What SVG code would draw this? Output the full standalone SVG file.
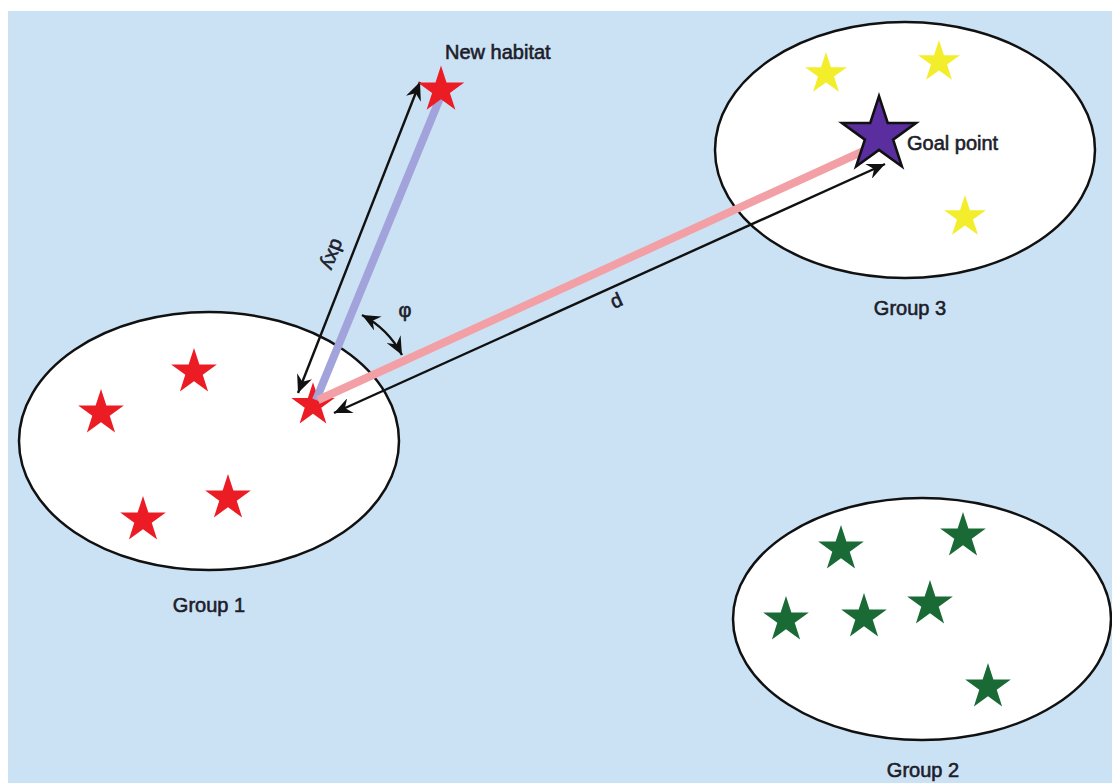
<svg xmlns="http://www.w3.org/2000/svg" width="1112" height="783" viewBox="0 0 1112 783">
  <style>
    .bg { fill: #cbe2f4; }
    .region { fill: #ffffff; stroke: #111111; stroke-width: 2.5; }
    .lbl { font-family: "Liberation Sans", Arial, sans-serif; font-size: 20px; fill: #1d1d2b; stroke: #1d1d2b; stroke-width: 0.6; }
    .red { fill: #ec1c24; }
    .yellow { fill: #f3ee2c; }
    .green { fill: #1a6a36; }
    .goal { fill: #5a2e9e; stroke: #111111; stroke-width: 1.6; stroke-linejoin: miter; }
    .path-new { stroke: #a3a3dc; stroke-width: 8; fill: none; }
    .path-goal { stroke: #f2a0a6; stroke-width: 8; fill: none; }
    .dim { stroke: #111111; stroke-width: 2.4; fill: none; marker-start: url(#head); marker-end: url(#head); }
  </style>
  <defs>
    <!-- five-pointed star, outer radius 24 -->
    <path id="star" d="M0,-24 L5.39,-7.42 L22.83,-7.42 L8.72,2.83 L14.11,19.42 L0,9.17 L-14.11,19.42 L-8.72,2.83 L-22.83,-7.42 L-5.39,-7.42 Z"/>
    <!-- barbed arrowhead used at both ends of the dimension lines -->
    <marker id="head" markerUnits="userSpaceOnUse" markerWidth="20" markerHeight="16" refX="18" refY="8" orient="auto-start-reverse">
      <path d="M0,0 L18,8 L0,16 L6,8 Z" fill="#111111"/>
    </marker>
  </defs>

  <rect class="bg" x="8" y="11" width="1104" height="772"/>

  <!-- Group 1 -->
  <g id="group1">
    <ellipse class="region" cx="209" cy="441" rx="190" ry="129"/>
    <use href="#star" class="red" x="194" y="372"/>
    <use href="#star" class="red" x="101" y="413"/>
    <use href="#star" class="red" x="228" y="498"/>
    <use href="#star" class="red" x="143" y="520"/>
    <use href="#star" class="red" transform="translate(313,405) scale(0.95)"/>
    <text class="lbl" x="209" y="612" text-anchor="middle">Group 1</text>
  </g>

  <!-- Group 3 -->
  <g id="group3">
    <ellipse class="region" cx="905" cy="150" rx="190" ry="128"/>
    <use href="#star" class="yellow" transform="translate(826,74) scale(0.92)"/>
    <use href="#star" class="yellow" transform="translate(939,62) scale(0.92)"/>
    <use href="#star" class="yellow" transform="translate(965,217) scale(0.92)"/>
    <text class="lbl" x="910" y="315" text-anchor="middle">Group 3</text>
  </g>

  <!-- Group 2 -->
  <g id="group2">
    <ellipse class="region" cx="922" cy="619" rx="189" ry="121"/>
    <use href="#star" class="green" x="841" y="549"/>
    <use href="#star" class="green" x="963" y="536"/>
    <use href="#star" class="green" x="786" y="620"/>
    <use href="#star" class="green" x="864" y="617"/>
    <use href="#star" class="green" x="930" y="604"/>
    <use href="#star" class="green" x="988" y="687"/>
    <text class="lbl" x="923" y="777" text-anchor="middle">Group 2</text>
  </g>

  <!-- connectors -->
  <g id="connectors">
    <line class="path-new" x1="316" y1="400" x2="440" y2="98"/>
    <line class="path-goal" x1="318" y1="400" x2="868" y2="149"/>
    <line class="dim" x1="298" y1="393" x2="420" y2="82"/>
    <line class="dim" x1="334" y1="413" x2="885" y2="164"/>
    <path class="dim" d="M362,315 A97,97 0 0 1 402,355"/>
    <text class="lbl" transform="translate(332,254) rotate(111.4)" text-anchor="middle" dominant-baseline="middle" font-size="18">dxy</text>
    <text class="lbl" transform="translate(617,302) rotate(-24.3)" text-anchor="middle" dominant-baseline="middle" font-size="18">d</text>
    <text class="lbl" x="405" y="317" text-anchor="middle" font-size="19">φ</text>
  </g>

  <!-- New habitat -->
  <g id="new-habitat">
    <use href="#star" class="red" transform="translate(441,90) scale(1.02)"/>
    <text class="lbl" x="445" y="59">New habitat</text>
  </g>

  <!-- Goal point -->
  <g id="goal-point">
    <use href="#star" class="goal" transform="translate(879,135) scale(1.62)"/>
    <text class="lbl" x="907" y="150">Goal point</text>
  </g>
</svg>
